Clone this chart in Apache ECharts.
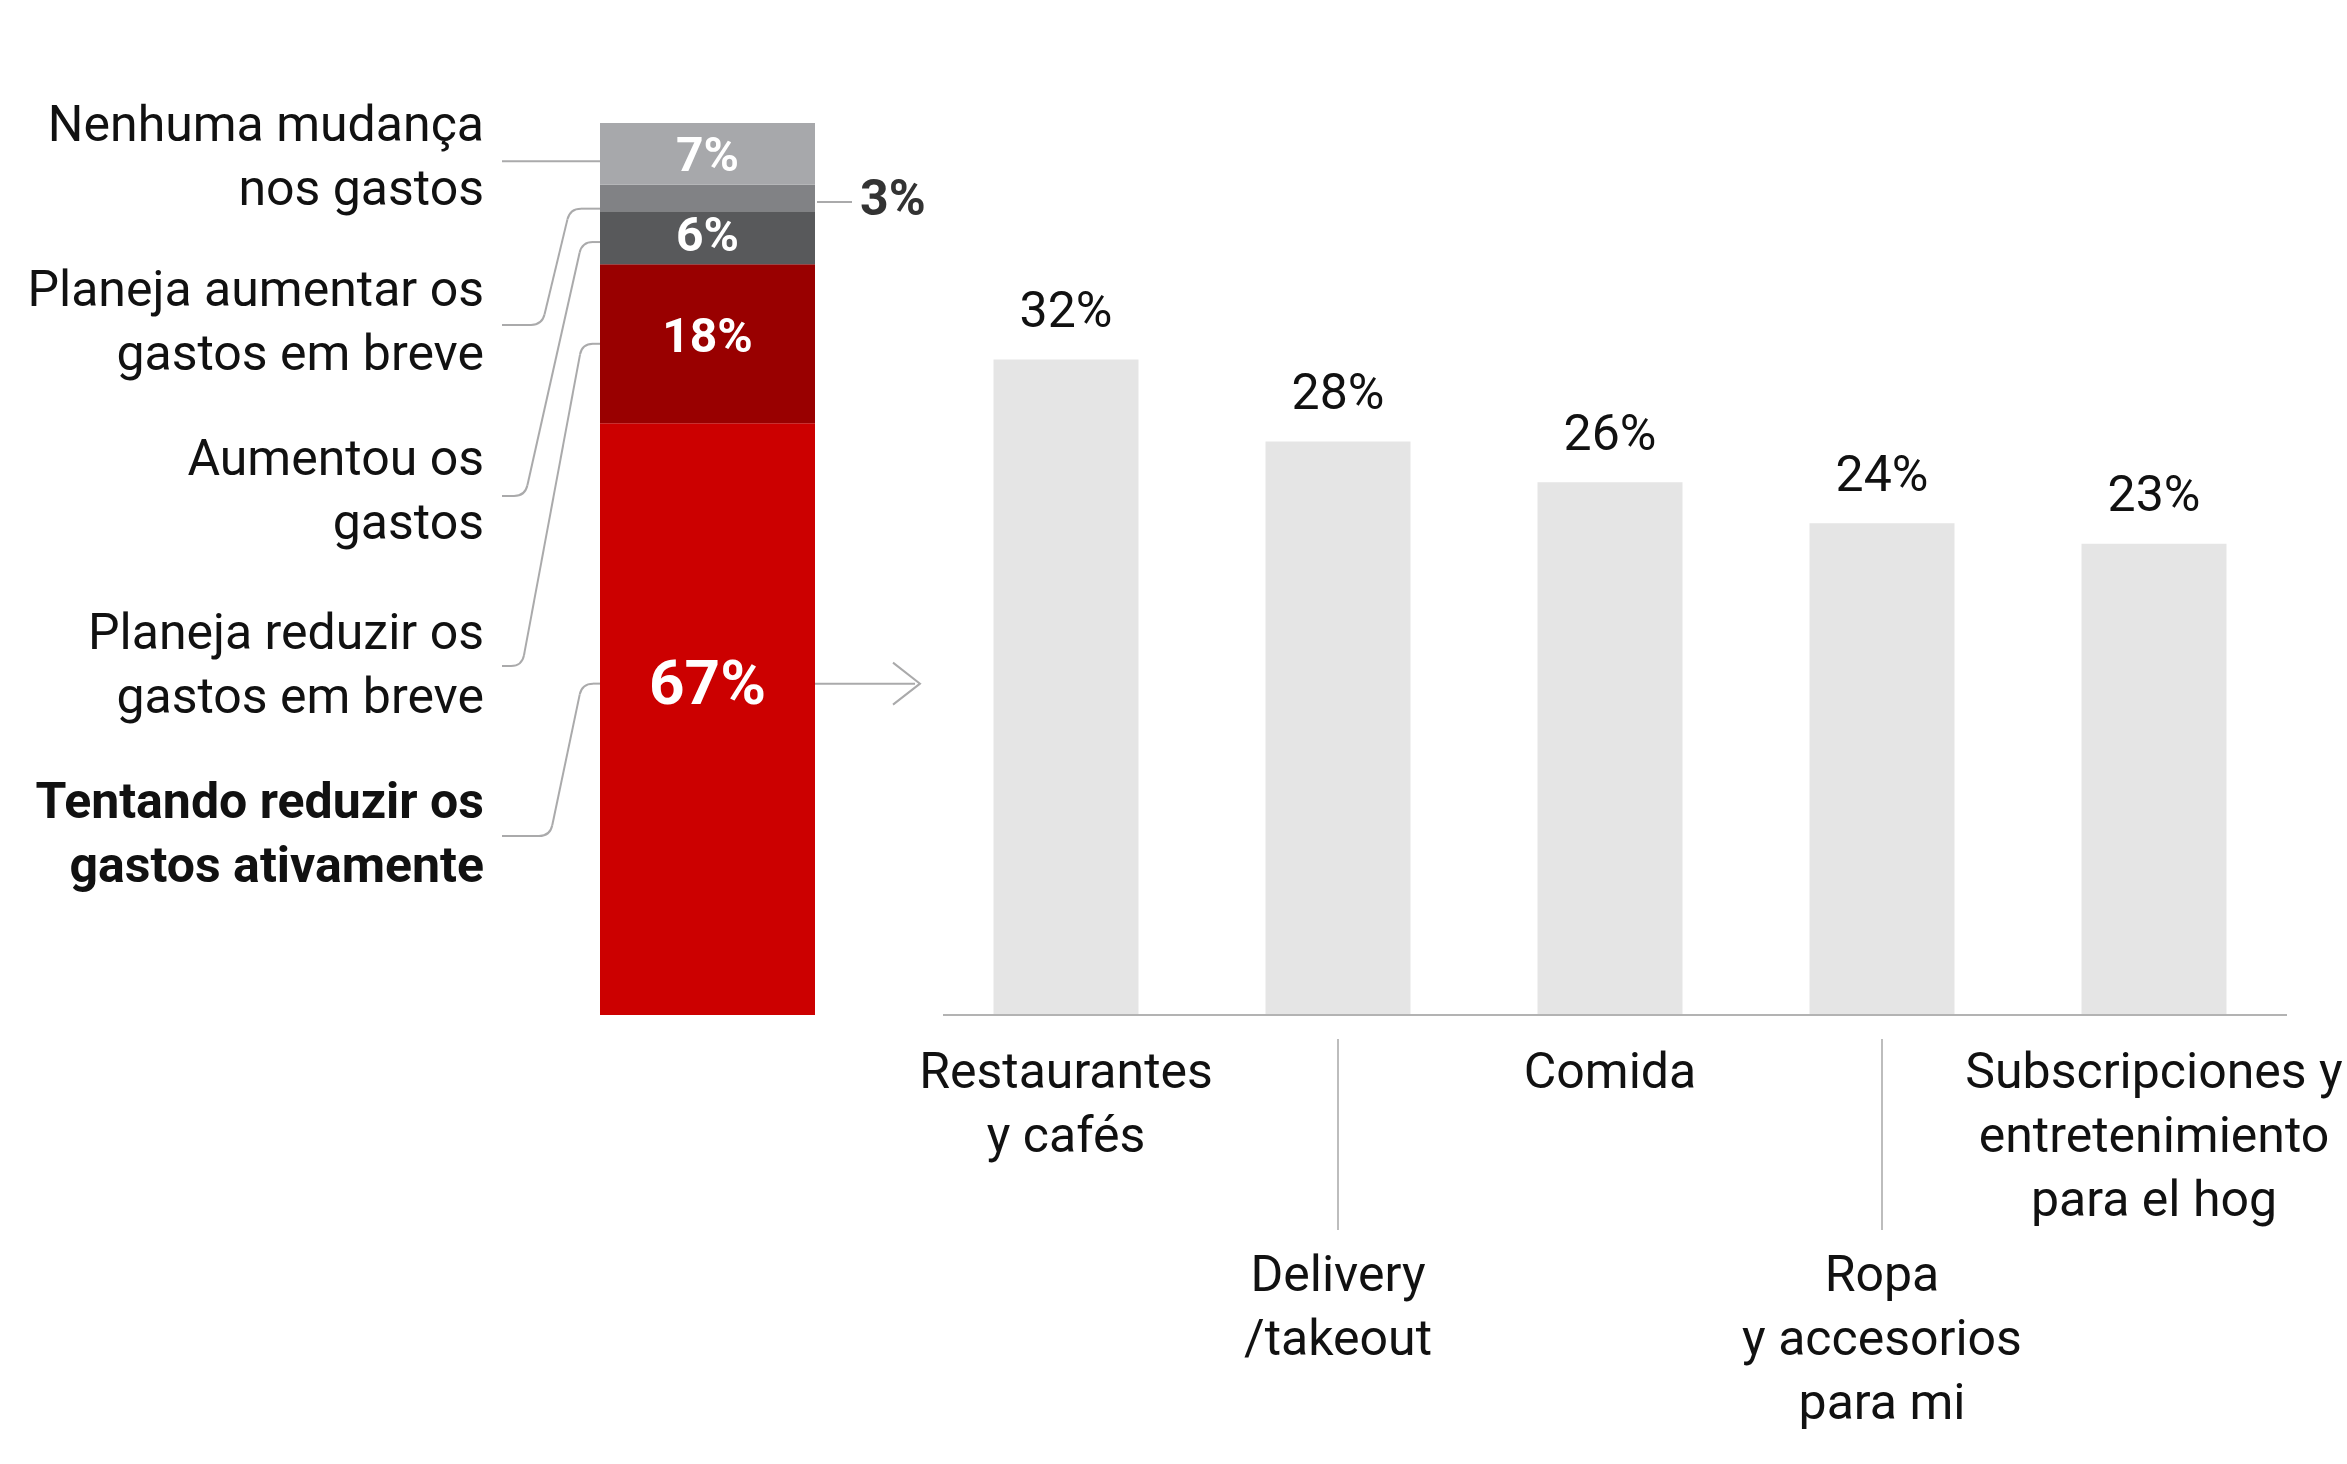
<!DOCTYPE html>
<html>
<head>
<meta charset="utf-8">
<script src="https://cdn.jsdelivr.net/npm/echarts@6/dist/echarts.min.js"></script>
<style>
html,body{margin:0;padding:0;background:#fff;}
#main{width:2347px;height:1464px;}
</style>
</head>
<body>
<div id="main"></div>
<script>
// ---- data ----
const stackNames = ['Tentando reduzir os gastos ativamente', 'Planeja reduzir os gastos em breve', 'Aumentou os gastos', 'Planeja aumentar os gastos em breve', 'Nenhuma mudança nos gastos'];
const stackValues = [67, 18, 6, 3, 7];
const stackLabelLines = [
  ['Tentando reduzir os', 'gastos ativamente'],
  ['Planeja reduzir os', 'gastos em breve'],
  ['Aumentou os', 'gastos'],
  ['Planeja aumentar os', 'gastos em breve'],
  ['Nenhuma mudança', 'nos gastos']
];
const categories = ['Restaurantes\ny cafés', 'Delivery\n/takeout', 'Comida', 'Ropa\ny accesorios\npara mi', 'Subscripciones y\nentretenimiento\npara el hog'];
const barValues = [32, 28, 26, 24, 23];

// ---- style ----
const FONT = 'Roboto';
const stackColors = ['#cc0000', '#990000', '#58595b', '#818285', '#a7a8ab'];
const labelOffsets = [[0, -31], [0, -4], [0, 1], [0, 4], [0, 5]];
const LINE = '#aaaaab';

const chart = echarts.init(document.getElementById('main'), null, {renderer: 'canvas'});

const stackTotal = stackValues.reduce((a, b) => a + b, 0);

const series = stackValues.map((v, i) => ({
  name: stackNames[i],
  type: 'bar',
  xAxisIndex: 0,
  yAxisIndex: 0,
  stack: 'total',
  barWidth: '100%',
  data: [v],
  itemStyle: {color: stackColors[i]},
  label: i === 3 ? {
    show: true, position: 'right', distance: 45, offset: labelOffsets[i], formatter: '{c}%',
    color: '#333333', fontFamily: FONT, fontWeight: 'bold', fontSize: 50
  } : {
    show: true, position: 'inside', offset: labelOffsets[i], formatter: '{c}%',
    color: '#ffffff', fontFamily: FONT, fontWeight: 'bold', fontSize: i === 0 ? 62 : 48
  }
}));

series.push({
  type: 'bar',
  xAxisIndex: 1,
  yAxisIndex: 1,
  data: barValues,
  barWidth: 145,
  itemStyle: {color: '#e5e5e5'},
  label: {
    show: true, position: 'top', distance: 20, formatter: '{c}%',
    color: '#111111', fontFamily: FONT, fontSize: 50, lineHeight: 50
  }
});

chart.setOption({
  animation: false,
  backgroundColor: '#ffffff',
  grid: [
    {left: 600, width: 215, top: 123, height: 892},
    {left: 930, right: 57, top: 298, bottom: 449}
  ],
  xAxis: [
    {type: 'category', gridIndex: 0, data: ['total'], show: false},
    {
      type: 'category', gridIndex: 1, data: categories,
      axisLine: {show: false},
      axisTick: {show: false},
      axisLabel: {
        interval: 0, margin: 28,
        formatter: function (v, i) {
          const lines = v.split('\n').map(l => '{t|' + l + '}').join('\n');
          return i % 2 === 1 ? '{gap| }\n' + lines : lines;
        },
        rich: {
          t: {fontFamily: FONT, fontSize: 50, lineHeight: 64, color: '#111111'},
          gap: {fontSize: 10, height: 203, lineHeight: 203}
        }
      }
    }
  ],
  yAxis: [
    {type: 'value', gridIndex: 0, min: 0, max: stackTotal, show: false},
    {type: 'value', gridIndex: 1, min: 0, max: 35, show: false}
  ],
  series: series
});

// ---- annotations derived from the axes ----
const yS = v => chart.convertToPixel({yAxisIndex: 0}, v);
const gridRect = chart.getModel().getComponent('grid', 0).coordinateSystem.getRect();
const xL = gridRect.x, xR = gridRect.x + gridRect.width;
const grid2 = chart.getModel().getComponent('grid', 1).coordinateSystem.getRect();
const y0Bar = chart.convertToPixel({yAxisIndex: 1}, 0);

// cumulative bottoms of each segment
const cum = [];
let acc = 0;
stackValues.forEach(v => { cum.push(acc); acc += v; });

// label block centres (left column) and leader geometry
const labelCenters = [837, 668, 494, 325, 160];
const leaderY = [836, 666, 496, 325, 161];
const anchorFrac = [0.56, 0.5, 0.42, 0.1, 0.38];
const bottomX = [550, 522, 525, 542, 0];
const topX = [582, 582, 582, 570, 0];
const graphics = [];
const ls = {stroke: LINE, lineWidth: 2, fill: null};

function addLeader(x0, y0, bx, tx, yT, x1) {
  const r = 11;
  const dx = tx - bx, dy = yT - y0;
  const len = Math.sqrt(dx * dx + dy * dy);
  const ux = dx / len, uy = dy / len;
  const p1 = [bx + ux * r, y0 + uy * r];
  const p2 = [tx - ux * r, yT - uy * r];
  graphics.push({type: 'line', shape: {x1: x0, y1: y0, x2: bx - r, y2: y0}, style: ls});
  graphics.push({type: 'bezierCurve', shape: {x1: bx - r, y1: y0, x2: p1[0], y2: p1[1], cpx1: bx, cpy1: y0}, style: ls});
  graphics.push({type: 'line', shape: {x1: p1[0], y1: p1[1], x2: p2[0], y2: p2[1]}, style: ls});
  graphics.push({type: 'bezierCurve', shape: {x1: p2[0], y1: p2[1], x2: tx + r, y2: yT, cpx1: tx, cpy1: yT}, style: ls});
  graphics.push({type: 'line', shape: {x1: tx + r, y1: yT, x2: x1, y2: yT}, style: ls});
}

stackLabelLines.forEach((lines, i) => {
  graphics.push({
    type: 'text',
    style: {
      text: lines.join('\n'),
      x: 484, y: labelCenters[i],
      align: 'right', verticalAlign: 'middle',
      textAlign: 'right', textVerticalAlign: 'middle',
      font: (i === 0 ? 'bold ' : '') + '50px ' + FONT,
      lineHeight: 64,
      fill: '#111111'
    }
  });
  const yT = yS(cum[i] + stackValues[i] * anchorFrac[i]);
  if (i === 4) {
    graphics.push({type: 'line', shape: {x1: 502, y1: yT, x2: xL, y2: yT}, style: ls});
  } else {
    addLeader(502, leaderY[i], bottomX[i], topX[i], yT, xL + 2);
  }
});

// connector for the 3% label
const y3 = yS(cum[3] + stackValues[3] / 2) + 4;
graphics.push({type: 'line', shape: {x1: xR + 2, y1: y3, x2: xR + 37, y2: y3}, style: ls});

// arrow from the main segment towards the category bars
const yA = yS(cum[0] + stackValues[0] * anchorFrac[0]);
graphics.push({type: 'line', shape: {x1: xR - 3, y1: yA, x2: xR + 100, y2: yA}, style: ls});
graphics.push({type: 'polyline', shape: {points: [[xR + 78, yA - 21], [xR + 105, yA], [xR + 78, yA + 21]]}, style: ls});

// baseline of the category bars
graphics.push({type: 'line', shape: {x1: grid2.x + 13, y1: y0Bar, x2: grid2.x + grid2.width - 3, y2: y0Bar}, style: {stroke: '#b3b3b3', lineWidth: 2}, z: 10});

// vertical guide ticks for the staggered category labels
categories.forEach((c, i) => {
  if (i % 2 === 1) {
    const x = chart.convertToPixel({xAxisIndex: 1}, i);
    graphics.push({type: 'line', shape: {x1: x, y1: y0Bar + 24, x2: x, y2: y0Bar + 215}, style: {stroke: '#bdbdbd', lineWidth: 2}});
  }
});

chart.setOption({graphic: {elements: graphics}});
</script>
</body>
</html>
